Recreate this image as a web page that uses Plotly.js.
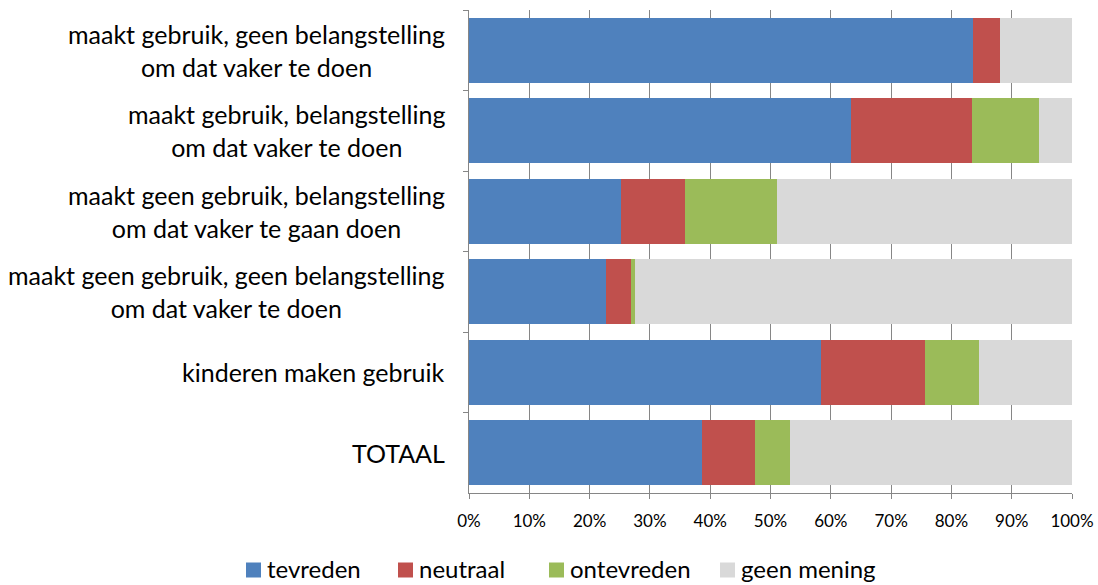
<!DOCTYPE html>
<html>
<head>
<meta charset="utf-8">
<script src="https://cdn.plot.ly/plotly-3.0.1.min.js"></script>
<style>html,body{margin:0;padding:0;background:#fff;}#chart{width:1098px;height:585px;}</style>
</head>
<body>
<div id="chart"></div>
<script>
const categories = [
  "maakt gebruik, geen belangstelling<br>om dat vaker te doen",
  "maakt gebruik, belangstelling<br>om dat vaker te doen",
  "maakt geen gebruik, belangstelling<br>om dat vaker te gaan doen",
  "maakt geen gebruik, geen belangstelling<br>om dat vaker te doen",
  "kinderen maken gebruik",
  "TOTAAL"
];
const tevreden    = [83.5, 63.4, 25.2, 22.8, 58.4, 38.6];
const neutraal    = [4.6, 20.0, 10.7, 4.1, 17.2, 8.9];
const ontevreden  = [0.0, 11.2, 15.1, 0.6, 9.0, 5.7];
const geenMening  = [11.9, 5.4, 49.0, 72.5, 15.4, 46.8];
const seriesNames = ["tevreden", "neutraal", "ontevreden", "geen mening"];
const colors = ["#4F81BD", "#C0504D", "#9BBB59", "#D9D9D9"];
const tickVals = [0,10,20,30,40,50,60,70,80,90,100];

const FONT = "Lato, 'Open Sans', sans-serif";
const W = 1098, H = 585;
const M = {l: 469, r: 26, t: 10, b: 92};
const plotW = W - M.l - M.r, plotH = H - M.t - M.b;
const px2x = p => (p - M.l) / plotW;
const py2y = p => (H - M.b - p) / plotH;

const ids = categories.map((c, i) => "c" + i);
const allSeries = [tevreden, neutraal, ontevreden, geenMening];
const traces = allSeries.map((vals, k) => ({
  type: "bar",
  orientation: "h",
  name: seriesNames[k],
  x: vals,
  y: ids,
  marker: {color: colors[k], line: {width: 0}},
  hoverinfo: "x+name",
  showlegend: false
}));

const annotations = categories.map((c, i) => ({
  xref: "paper", yref: "y",
  x: 0, y: ids[i],
  xanchor: "right", yanchor: "middle",
  xshift: -22,
  align: "center",
  text: c,
  showarrow: false,
  font: {family: FONT, size: 25, color: "#000"}
}));

// custom legend (layout positions in pixels)
const legendSquareLeft = [246, 398, 549, 720];
const legendSq = 15, legendCy = 568;
const shapes = [];
seriesNames.forEach((n, k) => {
  const x0 = legendSquareLeft[k];
  shapes.push({
    type: "rect", xref: "paper", yref: "paper",
    x0: px2x(x0), x1: px2x(x0 + legendSq),
    y0: py2y(legendCy + 2 + legendSq / 2), y1: py2y(legendCy + 2 - legendSq / 2),
    fillcolor: colors[k], line: {width: 0}
  });
  annotations.push({
    xref: "paper", yref: "paper",
    x: px2x(x0 + legendSq + 4), y: py2y(legendCy),
    xanchor: "left", yanchor: "middle",
    text: n, showarrow: false,
    font: {family: FONT, size: 24, color: "#000"}
  });
});

const layout = {
  barmode: "stack",
  bargap: 0.19,
  width: W, height: H,
  margin: {l: M.l, r: M.r, t: M.t, b: M.b, autoexpand: false},
  paper_bgcolor: "#fff",
  plot_bgcolor: "#fff",
  font: {family: FONT, color: "#000"},
  showlegend: false,
  xaxis: {
    range: [0, 100],
    tickvals: tickVals,
    ticktext: tickVals.map(v => v + "%"),
    showgrid: true, gridcolor: "#868686", gridwidth: 1,
    showline: true, linecolor: "#868686", linewidth: 1,
    ticks: "outside", ticklen: 5, tickcolor: "#868686",
    ticklabelstandoff: 8,
    tickfont: {family: FONT, size: 17, color: "#000"},
    zeroline: false,
    fixedrange: true
  },
  yaxis: {
    type: "category",
    autorange: "reversed",
    showticklabels: false,
    showline: true, linecolor: "#868686", linewidth: 1,
    ticks: "outside", ticklen: 5, tickcolor: "#868686",
    tickson: "boundaries",
    showgrid: false,
    fixedrange: true
  },
  shapes: shapes,
  annotations: annotations
};

Plotly.newPlot("chart", traces, layout, {displayModeBar: false, staticPlot: true});
</script>
</body>
</html>
